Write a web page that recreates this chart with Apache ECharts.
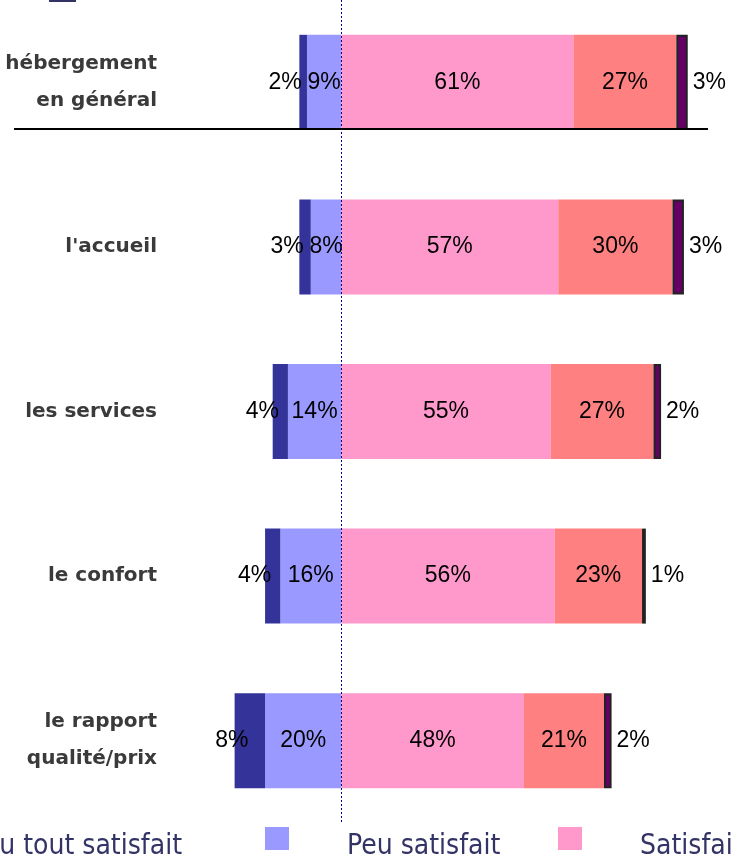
<!DOCTYPE html>
<html>
<head>
<meta charset="utf-8">
<script src="https://cdn.jsdelivr.net/npm/echarts@6/dist/echarts.min.js"></script>
<style>
  html, body { margin: 0; padding: 0; background: #fff; }
  #chart { width: 731px; height: 866px; }
</style>
</head>
<body>
<div id="chart"></div>
<script>
const categories = ['hébergement\nen général', "l'accueil", 'les services', 'le confort', 'le rapport\nqualité/prix']
const pasDuTout = [2, 3, 4, 4, 8]
const peu = [9, 8, 14, 16, 20]
const satisfait = [61, 57, 55, 56, 48]
const tres = [27, 30, 27, 23, 21]
const autre = [3, 3, 2, 1, 2]

const chart = echarts.init(document.getElementById('chart'))

const pctLabel = p => Math.abs(p.value) + '%'
const labelFont = { fontFamily: 'Liberation Sans, Arial, sans-serif', fontSize: 23, color: '#000' }
const legendText = { fontFamily: 'Liberation Sans Narrow, DejaVu Sans Condensed, sans-serif', fontSize: 28, color: '#333366', padding: [0, 0, 0, 53] }
// square sits in the top part of a taller icon box so the text lines up lower, as in the original
const legendIcon = 'path://M0,0h24v23h-24z M0,40 L24,40'
const legendBase = { top: 827, padding: 0, icon: legendIcon, itemWidth: 24, itemHeight: 40, textStyle: legendText }

const option = {
  animation: false,
  grid: { left: 227, right: 9, top: 0, height: 823, containLabel: false },
  xAxis: {
    type: 'value',
    min: -30,
    max: 100,
    show: false
  },
  yAxis: {
    type: 'category',
    inverse: true,
    data: categories,
    axisLine: { show: false },
    axisTick: { show: false },
    axisLabel: {
      margin: 70,
      align: 'right',
      fontFamily: 'DejaVu Sans, sans-serif',
      fontWeight: 'bold',
      fontSize: 20,
      lineHeight: 37,
      color: '#3a3a3a'
    }
  },
  legend: [
    { ...legendBase, data: ['Pas du tout satisfait'], right: 549 },
    { ...legendBase, data: ['Peu satisfait'], left: 265 },
    { ...legendBase, data: ['Satisfait'], left: 558 }
  ],
  series: [
    {
      name: 'Peu satisfait',
      type: 'bar',
      stack: 'total',
      barWidth: 95,
      data: peu.map(v => -v),
      itemStyle: { color: '#9999FF' },
      label: { show: true, position: 'inside', formatter: pctLabel, ...labelFont },
      markLine: {
        silent: true,
        symbol: 'none',
        label: { show: false },
        lineStyle: { color: '#0000A0', type: [2, 2], width: 1 },
        data: [{ xAxis: 0 }]
      }
    },
    {
      name: 'Pas du tout satisfait',
      type: 'bar',
      stack: 'total',
      data: pasDuTout.map(v => -v),
      itemStyle: { color: '#333399' },
      label: { show: true, position: 'inside', offset: [-18, 0], formatter: pctLabel, ...labelFont }
    },
    {
      name: 'Satisfait',
      type: 'bar',
      stack: 'total',
      data: satisfait,
      itemStyle: { color: '#FF99CC' },
      label: { show: true, position: 'inside', formatter: pctLabel, ...labelFont }
    },
    {
      name: 'Très satisfait',
      type: 'bar',
      stack: 'total',
      data: tres,
      itemStyle: { color: '#FF8080' },
      label: { show: true, position: 'inside', formatter: pctLabel, ...labelFont }
    },
    {
      name: 'Autre',
      type: 'bar',
      stack: 'total',
      data: autre,
      itemStyle: { color: '#660066', borderColor: '#222', borderWidth: 2 },
      label: { show: true, position: 'right', distance: 5, formatter: pctLabel, ...labelFont }
    }
  ],
  graphic: [
    { type: 'line', shape: { x1: 14, y1: 129, x2: 708, y2: 129 }, style: { stroke: '#000', lineWidth: 2 }, z: 10 },
    { type: 'rect', shape: { x: 50, y: -22, width: 25, height: 23 }, style: { fill: '#fff', stroke: '#333366', lineWidth: 2 } }
  ]
}

chart.setOption(option)
</script>
</body>
</html>
